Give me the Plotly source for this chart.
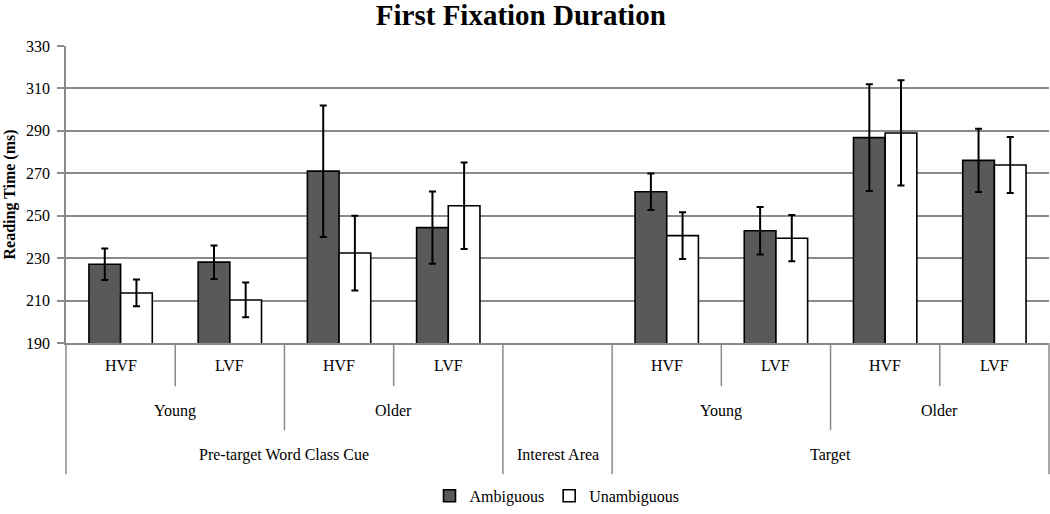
import plotly.graph_objects as go

# ---- data ----
slot_area = ["Pre-target Word Class Cue"] * 4 + ["Interest Area"] + ["Target"] * 4
slot_age = ["Young", "Young", "Older", "Older", "", "Young", "Young", "Older", "Older"]
slot_field = ["HVF", "LVF", "HVF", "LVF", "", "HVF", "LVF", "HVF", "LVF"]

ambiguous = [227.1, 228.1, 271.0, 244.4, None, 261.3, 242.9, 286.8, 276.1]
ambiguous_err = [7.4, 7.9, 31.0, 17.0, None, 8.6, 11.2, 25.2, 14.9]
unambiguous = [213.6, 210.3, 232.4, 254.7, None, 240.6, 239.4, 289.0, 273.9]
unambiguous_err = [6.3, 8.2, 17.6, 20.4, None, 11.0, 10.9, 24.8, 13.2]

y_ticks = [190, 210, 230, 250, 270, 290, 310, 330]

# ---- styling ----
FONT = "Liberation Serif"
GRID = "#8a8a8a"
W, H = 1050, 514
ML, MR, MT, MB = 66, 1, 46, 165
PH = H - MT - MB


def py(p):
    """pixel row -> paper y"""
    return (H - MB - p) / PH


cats = [" / ".join([a, g, f]).strip(" /") for a, g, f in zip(slot_area, slot_age, slot_field)]
n = len(cats)

fig = go.Figure()
fig.add_bar(
    x=cats, y=ambiguous, name="Ambiguous",
    marker=dict(color="#595959", line=dict(color="black", width=1.6)),
    error_y=dict(type="data", array=ambiguous_err, color="black", thickness=2, width=3.5),
)
fig.add_bar(
    x=cats, y=unambiguous, name="Unambiguous",
    marker=dict(color="white", line=dict(color="black", width=1.6)),
    error_y=dict(type="data", array=unambiguous_err, color="black", thickness=2, width=3.5),
)

LBL = dict(family=FONT, size=16, color="black")
annotations = []
# level 1 labels
for i, f in enumerate(slot_field):
    if f:
        annotations.append(dict(x=i, xref="x", y=py(372), yref="paper", text=f,
                                xanchor="center", yanchor="middle", showarrow=False, font=LBL))


def runs(keys):
    out = []
    start = 0
    for i in range(1, len(keys) + 1):
        if i == len(keys) or keys[i] != keys[start]:
            out.append((start, i - 1, keys[start]))
            start = i
    return out


# level 2 labels
for s, e, k in runs(list(zip(slot_area, slot_age))):
    if k[1]:
        annotations.append(dict(x=(s + e) / 2, xref="x", y=py(418), yref="paper", text=k[1],
                                xanchor="center", yanchor="middle", showarrow=False, font=LBL))
# level 3 labels
for s, e, k in runs(slot_area):
    annotations.append(dict(x=(s + e) / 2, xref="x", y=py(463), yref="paper", text=k,
                            xanchor="center", yanchor="middle", showarrow=False, font=LBL))

# y axis title
annotations.append(dict(x=0, xref="paper", xshift=-57, y=0.5, yref="paper", text="<b>Reading Time (ms)</b>",
                        xanchor="center", yanchor="middle", textangle=-90, showarrow=False, font=LBL))

# separators
shapes = []
for b in range(n + 1):
    if b == 0 or b == n or slot_area[b] != slot_area[b - 1]:
        depth = 483
    elif slot_age[b] != slot_age[b - 1]:
        depth = 438
    else:
        depth = 393
    shapes.append(dict(type="line", xref="paper", yref="paper", x0=b / n, x1=b / n,
                       y0=0, y1=py(depth), line=dict(color=GRID, width=1.5)))

fig.update_layout(
    width=W, height=H,
    margin=dict(l=ML, r=MR, t=MT, b=MB),
    paper_bgcolor="white", plot_bgcolor="white",
    barmode="group", bargap=0.42, bargroupgap=0,
    title=dict(text="<b>First Fixation Duration</b>", x=0.496, xanchor="center",
               y=1 - 15 / H, yanchor="middle",
               font=dict(family=FONT, size=29, color="black")),
    font=dict(family=FONT, size=16, color="black"),
    xaxis=dict(type="category", categoryorder="array", categoryarray=cats,
               range=[-0.5, n - 0.5], showticklabels=False, ticks="",
               showgrid=False, showline=True, linecolor=GRID, linewidth=1.5, zeroline=False),
    yaxis=dict(range=[190, 330], tickvals=y_ticks, ticks="outside", ticklen=7,
               tickcolor=GRID, tickwidth=1.5, showgrid=True, gridcolor=GRID, gridwidth=1.5,
               showline=True, linecolor=GRID, linewidth=1.5, zeroline=False,
               tickfont=dict(family=FONT, size=16, color="black"), ticklabelstandoff=4),
    legend=dict(orientation="h", x=(557 - ML) / (W - ML - MR), xanchor="center",
                y=py(505), yanchor="middle", font=dict(family=FONT, size=16, color="black"),
                itemwidth=30, traceorder="normal"),
    annotations=annotations,
    shapes=shapes,
)

fig.write_html(
    "out.html",
    config={"displayModeBar": False},
    post_script="document.body.style.margin='0';document.body.style.overflow='hidden';",
)
